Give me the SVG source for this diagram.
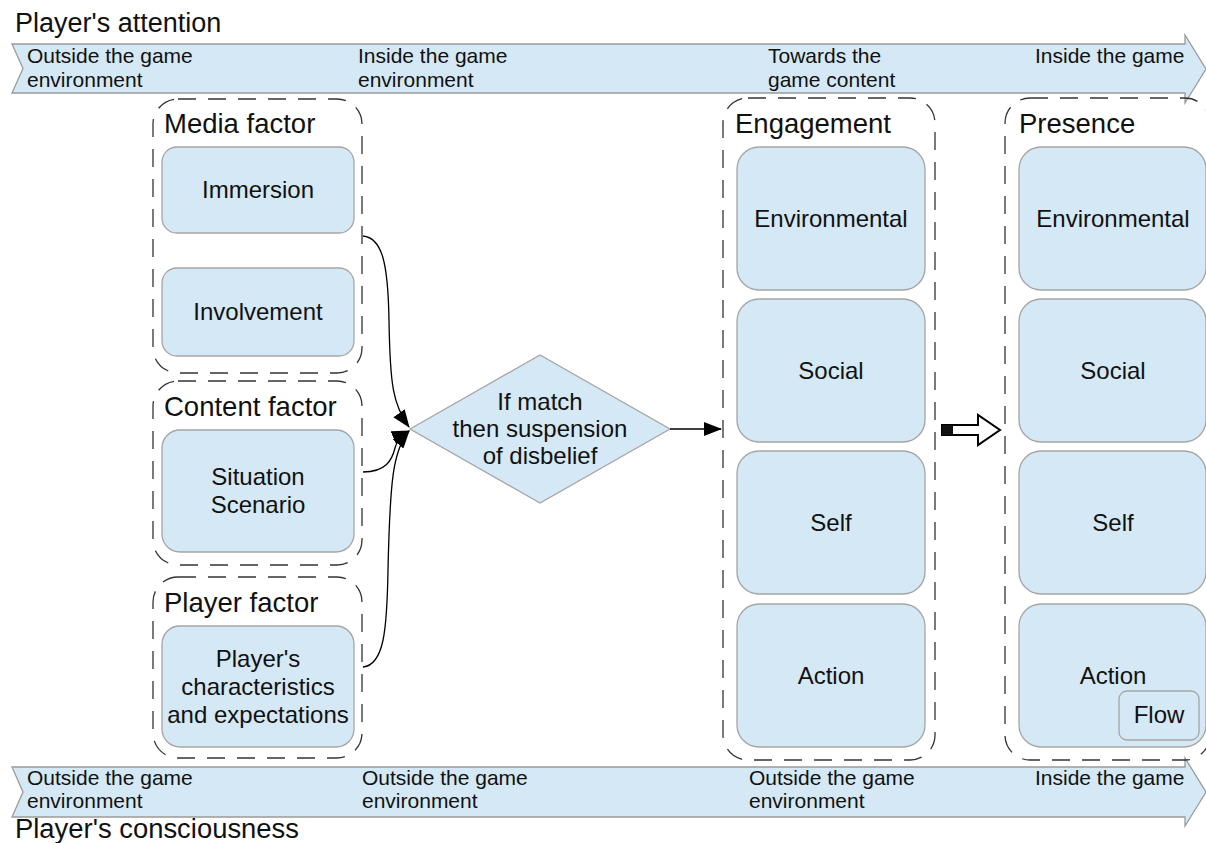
<svg xmlns="http://www.w3.org/2000/svg" width="1206" height="843" viewBox="0 0 1206 843">
<style>
text{font-family:"Liberation Sans",Arial,sans-serif;fill:#111}
.band{fill:#d5e8f5;stroke:#9a9a9a;stroke-width:1.3}
.bt{font-size:21px}
.lbl{font-size:27px}
.grp{fill:none;stroke:#333;stroke-width:1.3;stroke-dasharray:18 12}
.ttl{font-size:27.5px}
.box{fill:#d5e8f5;stroke:#a5a5a5;stroke-width:1.3}
.bx{font-size:24px;text-anchor:middle}
.con{fill:none;stroke:#000;stroke-width:1.3}
</style>
<defs>
<marker id="ah" markerWidth="18" markerHeight="14" refX="17" refY="7" orient="auto" markerUnits="userSpaceOnUse">
<path d="M0,0 L18,7 L0,14 Z" fill="#000"/>
</marker>
</defs>
<rect width="1206" height="843" fill="#fff"/>

<g id="band-top">
<polygon class="band" points="12,44 1185,44 1185,35 1206,69 1185,103 1185,93 12,93 23,68.5"/>
<text class="bt" x="27" y="63">Outside the game</text>
<text class="bt" x="27" y="87">environment</text>
<text class="bt" x="358" y="63">Inside the game</text>
<text class="bt" x="358" y="87">environment</text>
<text class="bt" x="768" y="63">Towards the</text>
<text class="bt" x="768" y="87">game content</text>
<text class="bt" x="1035" y="63">Inside the game</text>
</g>
<text id="attention" class="lbl" x="15" y="32">Player's attention</text>

<g id="band-bottom">
<polygon class="band" points="12,767 1185,767 1185,758 1206,792 1185,826 1185,817 12,817 23,792"/>
<text class="bt" x="27" y="785">Outside the game</text>
<text class="bt" x="27" y="808">environment</text>
<text class="bt" x="362" y="785">Outside the game</text>
<text class="bt" x="362" y="808">environment</text>
<text class="bt" x="749" y="785">Outside the game</text>
<text class="bt" x="749" y="808">environment</text>
<text class="bt" x="1035" y="785">Inside the game</text>
</g>
<text id="consciousness" class="lbl" x="15" y="838" textLength="284" lengthAdjust="spacingAndGlyphs">Player's consciousness</text>

<g id="media-factor">
<rect class="grp" x="153" y="99" width="209" height="274" rx="25"/>
<text class="ttl" x="164" y="133">Media factor</text>
</g>
<g id="immersion">
<rect class="box" x="162" y="147" width="192" height="86" rx="15"/>
<text class="bx" x="258" y="198">Immersion</text>
</g>
<g id="involvement">
<rect class="box" x="162" y="268" width="192" height="88" rx="15"/>
<text class="bx" x="258" y="320">Involvement</text>
</g>

<g id="content-factor">
<rect class="grp" x="153" y="381" width="209" height="184" rx="25"/>
<text class="ttl" x="164" y="416">Content factor</text>
</g>
<g id="situation">
<rect class="box" x="162" y="430" width="192" height="122" rx="18"/>
<text class="bx" x="258" y="485">Situation</text>
<text class="bx" x="258" y="513">Scenario</text>
</g>

<g id="player-factor">
<rect class="grp" x="153" y="577" width="209" height="181" rx="25"/>
<text class="ttl" x="164" y="612">Player factor</text>
</g>
<g id="player-char">
<rect class="box" x="162" y="626" width="192" height="121" rx="18"/>
<text class="bx" x="258" y="667">Player's</text>
<text class="bx" x="258" y="695">characteristics</text>
<text class="bx" x="258" y="723">and expectations</text>
</g>

<g id="decision">
<polygon class="box" points="410,429 540,355 670,429 540,503"/>
<text class="bx" x="540" y="410">If match</text>
<text class="bx" x="540" y="437">then suspension</text>
<text class="bx" x="540" y="464">of disbelief</text>
</g>

<g id="engagement">
<rect class="grp" x="723" y="98" width="212" height="662" rx="25"/>
<text class="ttl" x="735" y="133">Engagement</text>
</g>
<g id="eng-environmental">
<rect class="box" x="737" y="147" width="188" height="143" rx="22"/>
<text class="bx" x="831" y="227">Environmental</text>
</g>
<g id="eng-social">
<rect class="box" x="737" y="299" width="188" height="143" rx="22"/>
<text class="bx" x="831" y="379">Social</text>
</g>
<g id="eng-self">
<rect class="box" x="737" y="451" width="188" height="143" rx="22"/>
<text class="bx" x="831" y="531">Self</text>
</g>
<g id="eng-action">
<rect class="box" x="737" y="604" width="188" height="143" rx="22"/>
<text class="bx" x="831" y="684">Action</text>
</g>

<g id="presence">
<rect class="grp" x="1005" y="98" width="205" height="662" rx="25"/>
<text class="ttl" x="1019" y="133">Presence</text>
</g>
<g id="pre-environmental">
<rect class="box" x="1019" y="147" width="187" height="143" rx="22"/>
<text class="bx" x="1113" y="227">Environmental</text>
</g>
<g id="pre-social">
<rect class="box" x="1019" y="299" width="187" height="143" rx="22"/>
<text class="bx" x="1113" y="379">Social</text>
</g>
<g id="pre-self">
<rect class="box" x="1019" y="451" width="187" height="143" rx="22"/>
<text class="bx" x="1113" y="531">Self</text>
</g>
<g id="pre-action">
<rect class="box" x="1019" y="604" width="187" height="143" rx="22"/>
<text class="bx" x="1113" y="684">Action</text>
</g>
<g id="flow">
<rect class="box" x="1119" y="691" width="80" height="49" rx="8"/>
<text class="bx" x="1159" y="723">Flow</text>
</g>

<g id="connectors">
<path class="con" d="M363,236 C382,238 388,262 389,320 C390,385 393,405 409,427" marker-end="url(#ah)"/>
<path class="con" d="M363,472 C386,472 392,460 395,448 C398,438 402,434 409,431" marker-end="url(#ah)"/>
<path class="con" d="M363,667 C384,665 387,630 388,570 C390,480 393,450 409,431" marker-end="url(#ah)"/>
<path class="con" d="M670,429 L721,429" marker-end="url(#ah)"/>
<g id="block-arrow">
<polygon points="942,425 978,425 978,415 1000,430 978,445 978,435 942,435" fill="#fff" stroke="#000" stroke-width="2"/>
<rect x="942" y="425" width="11" height="10" fill="#111"/>
</g>
</g>
</svg>
